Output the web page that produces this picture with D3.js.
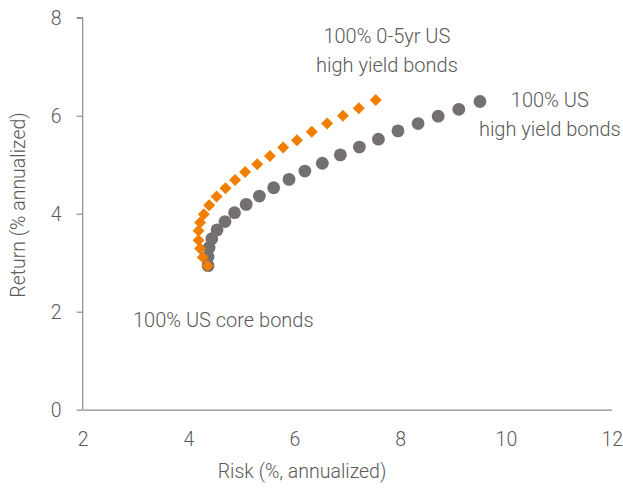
<!DOCTYPE html>
<html><head><meta charset="utf-8">
<script src="https://cdn.jsdelivr.net/npm/d3@7/dist/d3.min.js"></script>
<style>
html,body{margin:0;padding:0;background:#fff;}
svg text{font-family:"Roboto","Open Sans",sans-serif;font-weight:300;fill:#595959;}
</style></head>
<body><svg id="c" width="623" height="488"></svg>
<script>
// 100% US high yield bonds frontier (risk, return)
const hyRisk   = [4.37,4.37,4.39,4.44,4.54,4.69,4.87,5.09,5.34,5.61,5.90,6.20,6.53,6.87,7.23,7.59,7.96,8.34,8.72,9.11,9.51];
const hyReturn = [2.94,3.12,3.31,3.49,3.67,3.84,4.02,4.19,4.36,4.53,4.70,4.87,5.03,5.20,5.36,5.52,5.69,5.84,5.99,6.13,6.29];
// 100% 0-5yr US high yield bonds frontier
const shRisk   = [4.36,4.27,4.22,4.19,4.19,4.22,4.29,4.39,4.53,4.70,4.88,5.07,5.30,5.54,5.79,6.05,6.33,6.62,6.92,7.22,7.54];
const shReturn = [2.94,3.11,3.29,3.46,3.65,3.82,3.99,4.17,4.35,4.52,4.69,4.85,5.01,5.18,5.35,5.50,5.67,5.84,6.00,6.15,6.32];
const xTicks = [2,4,6,8,10,12];
const yTicks = [0,2,4,6,8];
const xTitle = "Risk (%, annualized)";
const yTitle = "Return (% annualized)";
const labels = [
  {lines:["100% 0-5yr US","high yield bonds"], x:7.75, y:7.48, anchor:"middle"},
  {lines:["100% US","high yield bonds"], x:10.83, y:6.18, anchor:"middle"},
  {lines:["100% US core bonds"], x:2.95, y:1.69, anchor:"start"}
];

const svg = d3.select("#c");
const x = d3.scaleLinear().domain([2,12]).range([82.7,611.7]);
const y = d3.scaleLinear().domain([0,8]).range([409.7,17.7]);
const axisColor = "#8c8c8c";

// y axis
const gy = svg.append("g").attr("transform","translate(82.7,0)")
  .call(d3.axisLeft(y).tickValues(yTicks).tickSize(6).tickPadding(15).tickFormat(d3.format("d")));
gy.select(".domain").attr("stroke",axisColor).attr("stroke-width",1.2).attr("d",`M0,${y(8)}H-6M0,${y(8)}V${y(0)}`);
gy.selectAll(".tick line").attr("stroke",axisColor).attr("stroke-width",1.2);
gy.selectAll(".tick text").style("font-size","19.5px").attr("dy","0.36em");

// x axis
const gx = svg.append("g").attr("transform","translate(0,409.7)")
  .call(d3.axisBottom(x).tickValues(xTicks).tickSize(0).tickPadding(22).tickFormat(d3.format("d")));
gx.select(".domain").attr("stroke",axisColor).attr("stroke-width",1.2);
gx.selectAll(".tick text").style("font-size","19.5px");

// titles
svg.append("text").attr("x",302).attr("y",478).attr("text-anchor","middle")
  .style("font-size","19.5px").text(xTitle);
svg.append("text").attr("transform","translate(25,205) rotate(-90)").attr("text-anchor","middle")
  .style("font-size","19.5px").text(yTitle);

// gray circles
svg.append("g").selectAll("circle").data(hyRisk.map((r,i)=>[r,hyReturn[i]])).join("circle")
  .attr("cx",d=>x(d[0])).attr("cy",d=>y(d[1])).attr("r",6.4).attr("fill","#747070");

// orange diamonds
const dsym = d3.symbol().type(d3.symbolSquare).size(72);
svg.append("g").selectAll("path").data(shRisk.map((r,i)=>[r,shReturn[i]])).join("path")
  .attr("d",dsym)
  .attr("transform",d=>`translate(${x(d[0])},${y(d[1])}) rotate(45)`)
  .attr("fill","#f07f00");

// annotations
labels.forEach(l=>{
  const t = svg.append("text").attr("x",x(l.x)).attr("y",y(l.y)).attr("text-anchor",l.anchor)
    .style("font-size","20px");
  l.lines.forEach((s,i)=>t.append("tspan").attr("x",x(l.x)).attr("dy",i?"1.45em":0).text(s));
});
</script></body></html>
